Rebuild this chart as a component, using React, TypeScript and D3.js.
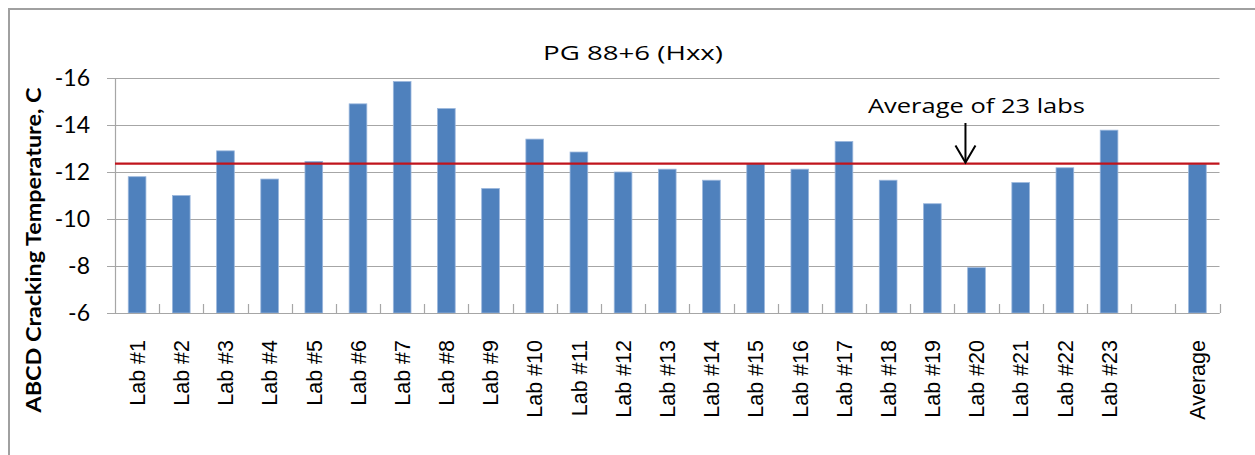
import React from "react";
import * as d3 from "d3";

const categories = [
  "Lab #1", "Lab #2", "Lab #3", "Lab #4", "Lab #5", "Lab #6", "Lab #7", "Lab #8",
  "Lab #9", "Lab #10", "Lab #11", "Lab #12", "Lab #13", "Lab #14", "Lab #15", "Lab #16",
  "Lab #17", "Lab #18", "Lab #19", "Lab #20", "Lab #21", "Lab #22", "Lab #23", "", "Average",
];
const values: (number | null)[] = [
  -11.8, -11.0, -12.9, -11.7, -12.45, -14.9, -15.85, -14.7,
  -11.3, -13.4, -12.85, -12.0, -12.12, -11.65, -12.35, -12.12,
  -13.3, -11.65, -10.65, -7.93, -11.55, -12.18, -13.78, null, -12.34,
];
const averageValue = -12.36;
const yTicks = [-16, -14, -12, -10, -8, -6];
const titleText = "PG 88+6 (Hxx)";
const yTitle = "ABCD Cracking Temperature, C";
const annotationText = "Average of 23 labs";

const W = 1255;
const H = 455;
const plot = { left: 115, right: 1219.5, top: 78, bottom: 313 };
const FONT = "Lato, 'Open Sans', sans-serif";
const FONT2 = "'Open Sans', Lato, sans-serif";

export default function App() {
  const x = d3
    .scaleBand<number>()
    .domain(d3.range(categories.length))
    .range([plot.left, plot.right])
    .paddingInner(0)
    .paddingOuter(0);
  const y = d3.scaleLinear().domain([-6, -16]).range([plot.bottom, plot.top]);
  const bw = x.bandwidth();
  const barW = bw * 0.4;
  const avgY = y(averageValue);
  const arrowX = x(19)! + bw * 0.25;

  return (
    <svg
      width={W}
      height={H}
      style={{ position: "absolute", left: 0, top: 0, background: "#fff" }}
    >
      <rect x={9} y={9} width={1300} height={500} fill="#fff" stroke="#A0A0A0" strokeWidth={2} />
      <text
        x={633}
        y={60}
        textAnchor="middle"
        fontFamily={FONT2}
        fontSize={20}
        textLength={180}
        lengthAdjust="spacingAndGlyphs"
        fill="#000"
      >
        {titleText}
      </text>
      {/* gridlines */}
      {yTicks.map((t) => (
        <line
          key={"g" + t}
          x1={plot.left - 8}
          x2={plot.right}
          y1={Math.round(y(t)) + 0.5}
          y2={Math.round(y(t)) + 0.5}
          stroke="#A6A6A6"
          strokeWidth={1.2}
        />
      ))}
      {/* y tick labels */}
      {yTicks.map((t) => (
        <text
          key={"t" + t}
          x={90}
          y={y(t)}
          dy="0.36em"
          textAnchor="end"
          fontFamily={FONT}
          fontSize={23}
          fill="#000"
        >
          {t}
        </text>
      ))}
      {/* y axis line */}
      <line x1={plot.left + 0.5} x2={plot.left + 0.5} y1={plot.top} y2={plot.bottom} stroke="#A6A6A6" strokeWidth={1.2} />
      {/* bars */}
      {values.map((v, i) =>
        v === null ? null : (
          <rect
            key={"b" + i}
            x={x(i)! + (bw - barW) / 2}
            y={y(v)}
            width={barW}
            height={y(-6) - y(v)}
            fill="#4F81BD"
            stroke="#9BB7DD"
            strokeWidth={0.8}
          />
        )
      )}
      {/* x axis inside ticks */}
      {d3.range(1, categories.length + 1).map((i) => {
        const xx = Math.round(plot.left + i * bw) + 0.5;
        return (
          <line key={"xt" + i} x1={xx} x2={xx} y1={plot.bottom - 9} y2={plot.bottom} stroke="#A6A6A6" strokeWidth={1.2} />
        );
      })}
      <line x1={plot.left} x2={plot.right} y1={plot.bottom + 0.5} y2={plot.bottom + 0.5} stroke="#A6A6A6" strokeWidth={1.2} />
      {/* average line */}
      <line x1={plot.left} x2={plot.right} y1={avgY} y2={avgY} stroke="#C0141C" strokeWidth={2.2} />
      {/* annotation */}
      <text
        x={arrowX - 97.5}
        y={113}
        fontFamily={FONT2}
        fontSize={20.5}
        textLength={217}
        lengthAdjust="spacingAndGlyphs"
        fill="#000"
      >
        {annotationText}
      </text>
      <line x1={arrowX} x2={arrowX} y1={123} y2={avgY - 1} stroke="#000" strokeWidth={2} />
      <polyline
        points={`${arrowX - 10},${avgY - 18} ${arrowX},${avgY - 1} ${arrowX + 10},${avgY - 18}`}
        fill="none"
        stroke="#000"
        strokeWidth={2}
      />
      {/* x labels */}
      {categories.map((c, i) =>
        c === "" ? null : (
          <text
            key={"xl" + i}
            transform={`translate(${x(i)! + bw / 2},340) rotate(-90)`}
            dy="0.36em"
            textAnchor="end"
            fontFamily="'Liberation Sans', Arial, sans-serif"
            fontSize={21.5}
            fill="#000"
          >
            {c}
          </text>
        )
      )}
      {/* y axis title */}
      <text
        transform={`translate(34,250) rotate(-90)`}
        dy="0.36em"
        textAnchor="middle"
        fontFamily={FONT}
        fontWeight="bold"
        fontSize={20}
        textLength={325}
        lengthAdjust="spacingAndGlyphs"
        fill="#000"
      >
        {yTitle}
      </text>
    </svg>
  );
}
